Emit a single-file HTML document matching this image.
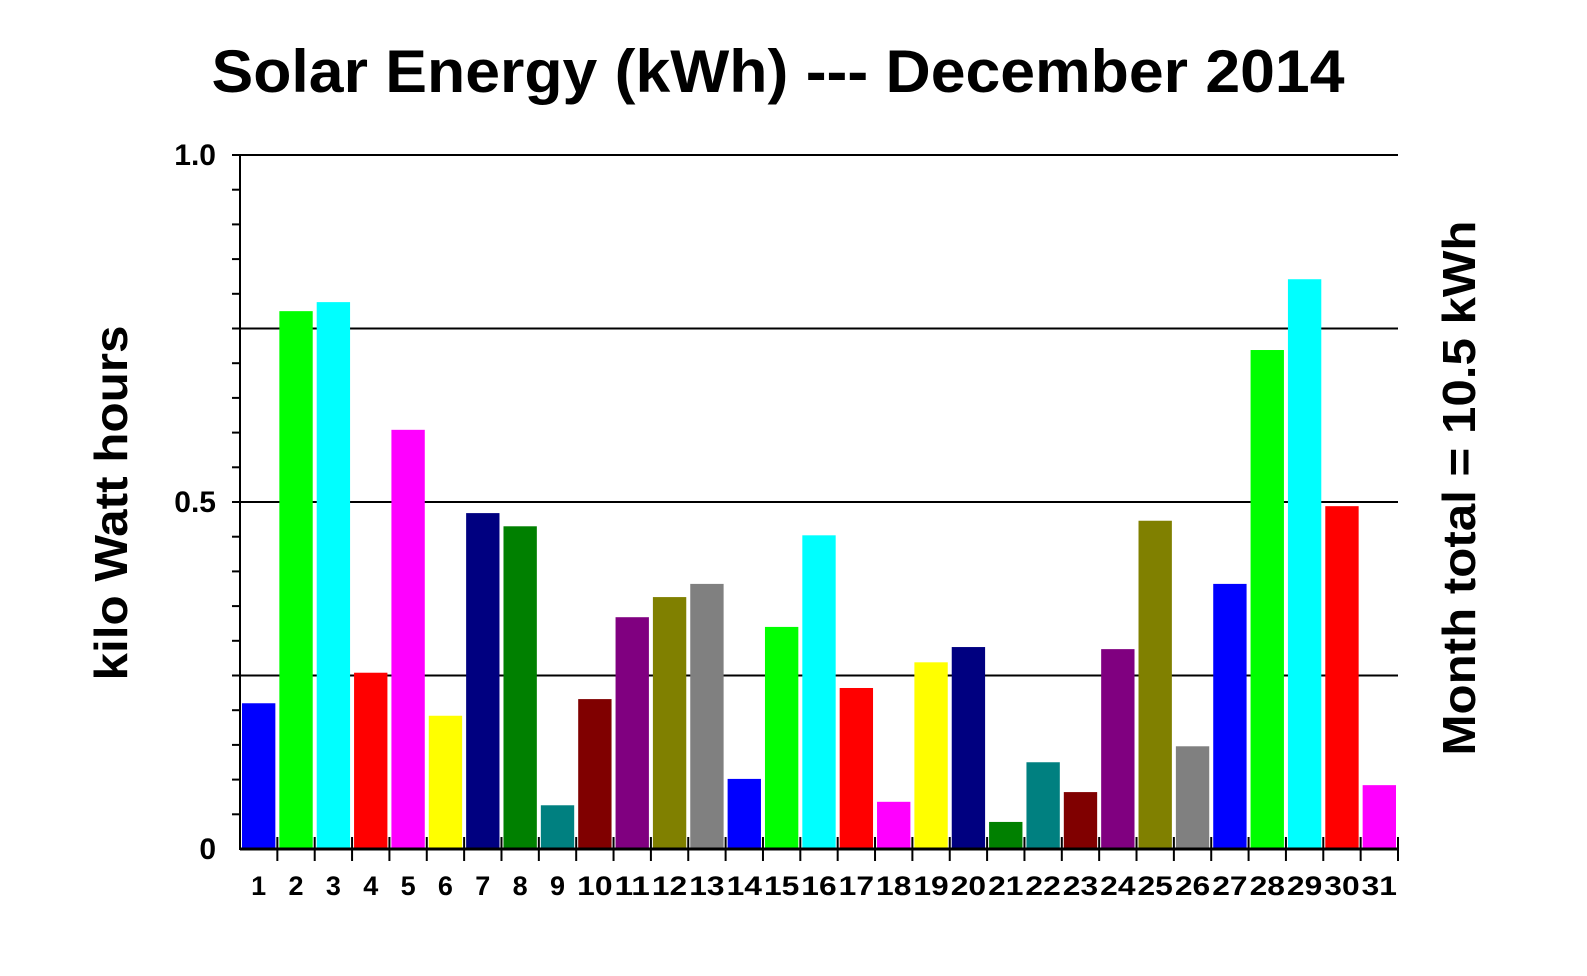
<!DOCTYPE html>
<html><head><meta charset="utf-8"><style>
body{margin:0;background:#fff;}
svg text{font-family:"Liberation Sans",Arial,sans-serif;font-weight:bold;fill:#000;}
</style></head><body>
<svg id="chart" width="1587" height="971" viewBox="0 0 1587 971" xmlns="http://www.w3.org/2000/svg">
<rect width="1587" height="971" fill="#fff"/>
<text x="778" y="92" font-size="60" text-anchor="middle" textLength="1133" lengthAdjust="spacingAndGlyphs">Solar Energy (kWh) --- December 2014</text>
<text transform="translate(127,503) rotate(-90)" font-size="46" text-anchor="middle" textLength="355" lengthAdjust="spacingAndGlyphs">kilo Watt hours</text>
<text transform="translate(1475,488) rotate(-90)" font-size="46" text-anchor="middle" textLength="535" lengthAdjust="spacingAndGlyphs">Month total = 10.5 kWh</text>
<g id="grid"></g><g id="bars"></g><g id="axes"></g>
</svg>
<script>
const days = ["1","2","3","4","5","6","7","8","9","10","11","12","13","14","15","16","17","18","19","20","21","22","23","24","25","26","27","28","29","30","31"];
const values = [0.21,0.775,0.788,0.254,0.604,0.192,0.484,0.465,0.063,0.216,0.334,0.363,0.382,0.101,0.32,0.452,0.232,0.068,0.269,0.291,0.039,0.125,0.082,0.288,0.473,0.148,0.382,0.719,0.821,0.494,0.092];
const palette = ["#0000ff","#00ff00","#00ffff","#ff0000","#ff00ff","#ffff00","#000080","#008000","#008080","#800000","#800080","#808000","#808080"];
const yTickValues = [0,0.5,1.0];
const yTickLabels = ["0","0.5","1.0"];
const gridValues = [0.25,0.5,0.75,1.0];

const X0=240, X1=1398, Y0=849, Y1=155, YMAX=1.0;
const slot=(X1-X0)/days.length;
const y=v=>Y0-(v/YMAX)*(Y0-Y1);
const x=i=>X0+i*slot;
const NS="http://www.w3.org/2000/svg";
function mk(tag,attrs,parent){const e=document.createElementNS(NS,tag);for(const k in attrs)e.setAttribute(k,attrs[k]);parent.appendChild(e);return e;}
const grid=document.getElementById('grid'),bars=document.getElementById('bars'),axes=document.getElementById('axes');

gridValues.forEach(v=>{
  const l=mk('line',{x1:232,x2:X1,y1:y(v),y2:y(v),stroke:'#000','stroke-width':2},grid);
  
  
});
for(let k=1;k<20;k++){
  const v=k*0.05;
  const t=mk('line',{x1:232,x2:X0,y1:y(v),y2:y(v),stroke:'#000','stroke-width':2},axes);
  
  
}
values.forEach((v,i)=>{
  const r=mk('rect',{x:x(i)+2,y:y(v),width:slot-4,height:Y0-y(v),fill:palette[i%palette.length]},bars);
  
  
  const lb=mk('text',{x:x(i)+slot/2,y:895,'font-size':27,'text-anchor':'middle'},axes);
  lb.textContent=days[i];
  if(days[i].length>1){lb.setAttribute('textLength',slot-2);lb.setAttribute('lengthAdjust','spacingAndGlyphs');}
  
  
});
for(let i=1;i<=days.length;i++){
  const t=mk('line',{x1:x(i),x2:x(i),y1:Y0-12,y2:Y0+12,stroke:'#000','stroke-width':2},axes);
  
  
}
const ya=mk('line',{x1:X0,x2:X0,y1:Y1,y2:Y0+1,stroke:'#000','stroke-width':2},axes);


const xa=mk('line',{x1:X0,x2:X1,y1:Y0,y2:Y0,stroke:'#000','stroke-width':3},axes);


yTickValues.forEach((v,i)=>{
  const t=mk('text',{x:216,y:y(v)+10,'font-size':30,'text-anchor':'end'},axes);
  t.textContent=yTickLabels[i];
  
  
});
</script>
</body></html>
